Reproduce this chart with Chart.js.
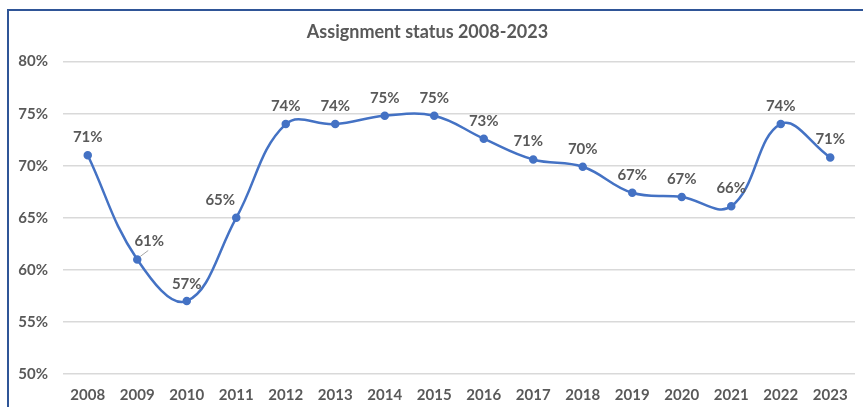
<!DOCTYPE html>
<html>
<head>
<meta charset="utf-8">
<script src="https://cdn.jsdelivr.net/npm/chart.js@4"></script>
<style>
  body { margin: 0; background: #fff; }
  #wrap { position: relative; width: 863px; height: 407px; }
  #frame { position: absolute; left: 7px; top: 9px; width: 870px; height: 410px;
           border-left: 2px solid #2f5597; border-top: 2px solid #2f5597; }
  canvas { position: absolute; left: 0; top: 0; }
</style>
</head>
<body>
<div id="wrap">
  <div id="frame"></div>
  <canvas id="myLineChart" width="863" height="407"></canvas>
</div>
<script>
const years = ["2008", "2009", "2010", "2011", "2012", "2013", "2014", "2015",
  "2016", "2017", "2018", "2019", "2020", "2021", "2022", "2023"];
const assignmentStatus = [71.0, 61.0, 57.0, 65.0, 74.0, 74.0, 74.8, 74.8,
  72.6, 70.6, 69.9, 67.4, 67.0, 66.1, 74.0, 70.8];
const yTicks = [50, 55, 60, 65, 70, 75, 80];

const textGrey = "#595959";
const labelFont = "bold 15px Lato";

// draws the % labels above each point
const pointLabels = {
  id: "pointLabels",
  afterDatasetsDraw(chart) {
    const ctx = chart.ctx;
    const meta = chart.getDatasetMeta(0);
    ctx.save();
    ctx.font = labelFont;
    ctx.fillStyle = textGrey;
    ctx.textAlign = "center";
    ctx.textBaseline = "middle";
    meta.data.forEach(function (pt, i) {
      let x = pt.x;
      let y = pt.y - 18;
      if (i === 1) {
        // 2009 label pushed right with a leader line
        x = pt.x + 12;
        ctx.strokeStyle = "#a6a6a6";
        ctx.lineWidth = 1;
        ctx.beginPath();
        ctx.moveTo(pt.x + 3, pt.y - 3);
        ctx.lineTo(pt.x + 11, pt.y - 9);
        ctx.stroke();
      } else if (i === 2) {
        y = pt.y - 17;
      } else if (i === 3) {
        x = pt.x - 16;
      } else if (i === 9) {
        x = pt.x - 5;
      }
      ctx.fillText(Math.round(assignmentStatus[i]) + "%", x, y);
    });
    ctx.restore();
  },
};

let ctx = document.getElementById("myLineChart").getContext("2d");
let myLineChart = new Chart(ctx, {
  type: "line",
  data: {
    labels: years,
    datasets: [
      {
        label: "Assignment status",
        data: assignmentStatus,
        borderColor: "#4472c4",
        backgroundColor: "#4472c4",
        borderWidth: 2.5,
        pointRadius: 3,
        pointHoverRadius: 3,
        tension: 0.4,
      },
    ],
  },
  options: {
    responsive: false,
    animation: false,
    layout: { padding: { left: 0, right: 8, top: 0, bottom: 0 } },
    plugins: {
      legend: { display: false },
      tooltip: { enabled: false },
      title: {
        display: true,
        text: "Assignment status 2008-2023",
        color: textGrey,
        font: { family: "Lato", size: 18, weight: "bold" },
        padding: { top: 21, bottom: 19 },
      },
    },
    scales: {
      x: {
        offset: true,
        afterFit(axis) {
          axis.height = 33;
        },
        grid: { display: false, drawTicks: false },
        border: { display: false },
        ticks: {
          color: textGrey,
          font: { family: "Lato", size: 15, weight: "bold" },
          padding: 12,
          maxRotation: 0,
        },
      },
      y: {
        min: 50,
        max: 80,
        afterBuildTicks(axis) {
          axis.ticks = yTicks.map(function (v) { return { value: v }; });
        },
        afterFit(axis) {
          axis.width = 63;
        },
        grid: { color: "#d9d9d9", lineWidth: 1.5, drawTicks: false },
        border: { display: false },
        ticks: {
          color: textGrey,
          font: { family: "Lato", size: 15, weight: "bold" },
          padding: 15,
          callback: function (v) { return v + "%"; },
        },
      },
    },
  },
  plugins: [pointLabels],
});
</script>
</body>
</html>
